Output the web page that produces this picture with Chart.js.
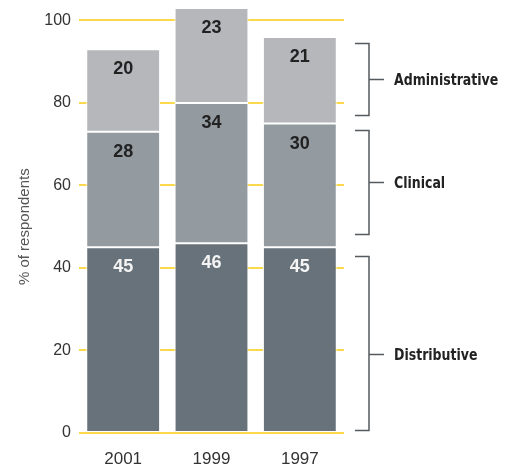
<!DOCTYPE html>
<html>
<head>
<meta charset="utf-8">
<script src="https://cdn.jsdelivr.net/npm/chart.js@4.4.1/dist/chart.umd.min.js"></script>
<style>
  html, body { margin: 0; padding: 0; background: #ffffff; }
  #wrap { width: 509px; height: 466px; position: relative; }
</style>
</head>
<body>
<div id="wrap"><canvas id="c" width="509" height="466"></canvas></div>
<script>
// Survey years and the share of respondents per function type
const years = ['2001', '1999', '1997'];
const distributive = [45, 46, 45];
const clinical = [28, 34, 30];
const administrative = [20, 23, 21];

// Group brackets on the right: [low, high, label anchor] in % units
const groupNames = ['Administrative', 'Clinical', 'Distributive'];
const groupLow = [77, 48.3, 0.7];
const groupHigh = [94.4, 73.5, 43];
const groupMid = [85.8, 60.9, 19.2];

const yTickStep = 20;
const yTickTop = 100;

const segmentColors = ['#67727a', '#939aa0', '#b6b7bb'];
const labelColors = ['#f4f4f4', '#222222', '#222222'];

const valueLabels = {
  id: 'valueLabels',
  afterDatasetsDraw(chart) {
    const ctx = chart.ctx;
    ctx.save();
    ctx.font = 'bold 18px "Liberation Sans", Arial, sans-serif';
    ctx.textAlign = 'center';
    ctx.textBaseline = 'middle';
    chart.data.datasets.forEach((ds, i) => {
      const meta = chart.getDatasetMeta(i);
      ctx.fillStyle = labelColors[i];
      meta.data.forEach((bar, j) => {
        ctx.fillText(String(ds.data[j]), bar.x, bar.y + 20);
      });
    });
    ctx.restore();
  }
};

const brackets = {
  id: 'brackets',
  afterDraw(chart) {
    const ctx = chart.ctx;
    const y = chart.scales.y;
    const area = chart.chartArea;
    const xStub = area.right + 11;
    const xBar = area.right + 25;
    const xTick = area.right + 40;
    const xText = area.right + 50;
    ctx.save();
    ctx.strokeStyle = '#555a5e';
    ctx.lineWidth = 1.5;
    groupNames.forEach((name, i) => {
      const top = Math.round(y.getPixelForValue(groupHigh[i])) + 0.5;
      const bot = Math.round(y.getPixelForValue(groupLow[i])) + 0.5;
      const mid = Math.round(y.getPixelForValue(groupMid[i])) + 0.5;
      ctx.beginPath();
      ctx.moveTo(xStub, top);
      ctx.lineTo(xBar, top);
      ctx.lineTo(xBar, bot);
      ctx.lineTo(xStub, bot);
      ctx.moveTo(xBar, mid);
      ctx.lineTo(xTick, mid);
      ctx.stroke();
      // condensed bold group name
      ctx.save();
      ctx.translate(xText, mid + 1);
      ctx.scale(0.87, 1);
      ctx.fillStyle = '#222222';
      ctx.font = 'bold 16px "DejaVu Sans Condensed", "DejaVu Sans", sans-serif';
      ctx.textAlign = 'left';
      ctx.textBaseline = 'middle';
      ctx.fillText(name, 0, 0);
      ctx.restore();
    });
    // axis title, centred on the labelled tick range
    ctx.fillStyle = '#555555';
    ctx.font = '15px "Liberation Sans", Arial, sans-serif';
    ctx.translate(25, y.getPixelForValue(yTickTop / 2));
    ctx.rotate(-Math.PI / 2);
    ctx.textAlign = 'center';
    ctx.textBaseline = 'middle';
    ctx.fillText('% of respondents', 0, 0);
    ctx.restore();
  }
};

new Chart(document.getElementById('c'), {
  type: 'bar',
  data: {
    labels: years,
    datasets: [
      { label: 'Distributive', data: distributive, backgroundColor: segmentColors[0] },
      { label: 'Clinical', data: clinical, backgroundColor: segmentColors[1] },
      { label: 'Administrative', data: administrative, backgroundColor: segmentColors[2] }
    ].map(d => Object.assign(d, {
      borderColor: '#ffffff',
      borderWidth: 1,
      borderSkipped: false,
      categoryPercentage: 1,
      barPercentage: 0.836
    }))
  },
  options: {
    responsive: false,
    animation: false,
    devicePixelRatio: 1,
    layout: { padding: { left: 0, right: 165, top: 8, bottom: 0 } },
    plugins: {
      legend: { display: false },
      tooltip: { enabled: false }
    },
    scales: {
      x: {
        stacked: true,
        grid: { display: false },
        border: { display: false },
        ticks: {
          color: '#333333',
          padding: 8,
          font: { family: '"Liberation Sans", Arial, sans-serif', size: 17 }
        },
        afterFit(scale) { scale.height = 33; }
      },
      y: {
        stacked: true,
        min: 0,
        max: 103,
        grid: { color: '#fcd94c', lineWidth: 2, drawTicks: false },
        border: { display: false },
        ticks: {
          stepSize: yTickStep,
          includeBounds: false,
          color: '#333333',
          padding: 8,
          font: { family: '"Liberation Sans", Arial, sans-serif', size: 16 }
        },
        afterBuildTicks(scale) {
          scale.ticks = scale.ticks.filter(t => t.value <= yTickTop && t.value % yTickStep === 0);
        },
        afterFit(scale) {
          scale.width = 79;
          scale.paddingTop = 0;
          scale.paddingBottom = 0;
        }
      }
    }
  },
  plugins: [valueLabels, brackets]
});
</script>
</body>
</html>
